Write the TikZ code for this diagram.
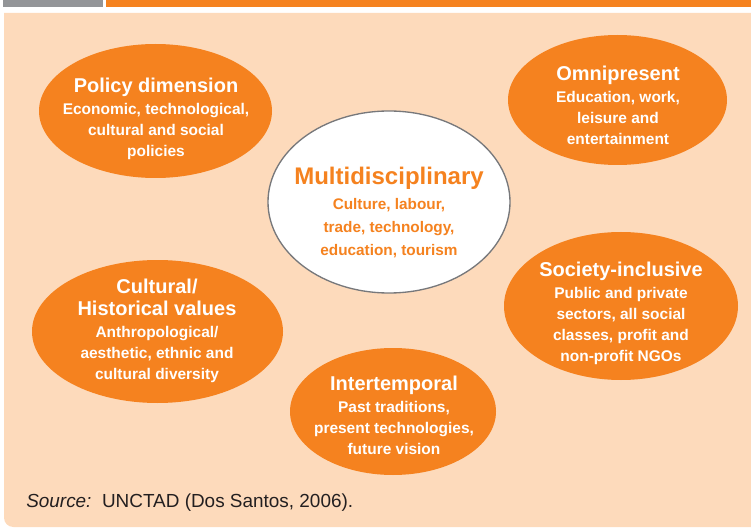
\documentclass[tikz,border=0pt]{standalone}
\usepackage{fontspec}
\setmainfont{Liberation Sans}
\usetikzlibrary{shapes.geometric,positioning}

\definecolor{unorange}{HTML}{F5821F}
\definecolor{unpeach}{HTML}{FDDABB}
\definecolor{ungrey}{HTML}{939598}
\definecolor{unrim}{HTML}{77787B}
\definecolor{unsource}{HTML}{231F20}

\newcommand{\blobtitle}[1]{{\fontsize{15}{18}\selectfont #1}}
\newcommand{\hubtitle}[1]{{\fontsize{18}{21}\selectfont #1}}

\begin{document}
\begin{tikzpicture}[x=0.75pt,y=-0.75pt]

\tikzstyle{blob} = [ellipse, fill=unorange, draw=none, inner sep=0pt]
\tikzstyle{hub} = [ellipse, fill=white, draw=unrim, line width=1pt, inner sep=0pt]
\tikzstyle{words} = [align=center, text=white, inner sep=0pt, font=\bfseries\fontsize{11.6}{15.75}\selectfont]
\tikzstyle{hubwords} = [align=center, text=unorange, inner sep=0pt, font=\bfseries\fontsize{11.5}{17.25}\selectfont]
\tikzstyle{note} = [anchor=base west, inner sep=0pt, text=unsource, font=\fontsize{14.2}{17}\selectfont]

\useasboundingbox (0,0) rectangle (751,528);

%% -- banner and panel --
\fill[ungrey] (3,0) rectangle (103,7);
\fill[unorange] (106,0) rectangle (751,7);
\fill[unpeach] (770,13) -- (4,13) [rounded corners=7pt] -- (4,527) -- (770,527) [sharp corners] -- cycle;

%% -- ellipses --
\node (policy) [blob, minimum width=174.75pt, minimum height=100.5pt] at (155.5,111) {};
\node (omni) [blob, minimum width=164.25pt, minimum height=97.5pt] at (617.5,100) {};
\node (multi) [hub, minimum width=181.5pt, minimum height=136.5pt] at (389,202) {};
\node (cultural) [blob, minimum width=188.25pt, minimum height=107.25pt] at (157.5,331.5) {};
\node (society) [blob, minimum width=175.5pt, minimum height=111pt] at (621,306) {};
\node (inter) [blob, minimum width=154.5pt, minimum height=95.25pt] at (393,411.5) {};

%% -- texts --
\node (policy text) [words] at (156,119) {\blobtitle{Policy dimension}\\[0.75pt]
  Economic, technological,\\ cultural and social\\ policies};
\node (omni text) [words] at (618,105.5) {\blobtitle{Omnipresent}\\[0.75pt]
  Education, work,\\ leisure and\\ entertainment};
\node (multi text) [hubwords] at (389,212) {\hubtitle{Multidisciplinary}\\[1.5pt]
  Culture, labour,\\ trade, technology,\\ education, tourism};
\node (cultural text) [words] at (157,330.5) {\blobtitle{Cultural/}\\[0.75pt]
  \blobtitle{Historical values}\\[0.75pt]
  Anthropological/\\ aesthetic, ethnic and\\ cultural diversity};
\node (society text) [words] at (621,313.5) {\blobtitle{Society-inclusive}\\[0.75pt]
  Public and private\\ sectors, all social\\ classes, profit and\\ non-profit NGOs};
\node (inter text) [words] at (394,415) {\blobtitle{Intertemporal}\\[0.75pt]
  Past traditions,\\ present technologies,\\ future vision};

%% -- source --
\node (source) [note] at (26,507) {\textit{Source:}\ \ UNCTAD (Dos Santos, 2006).};

\end{tikzpicture}
\end{document}
